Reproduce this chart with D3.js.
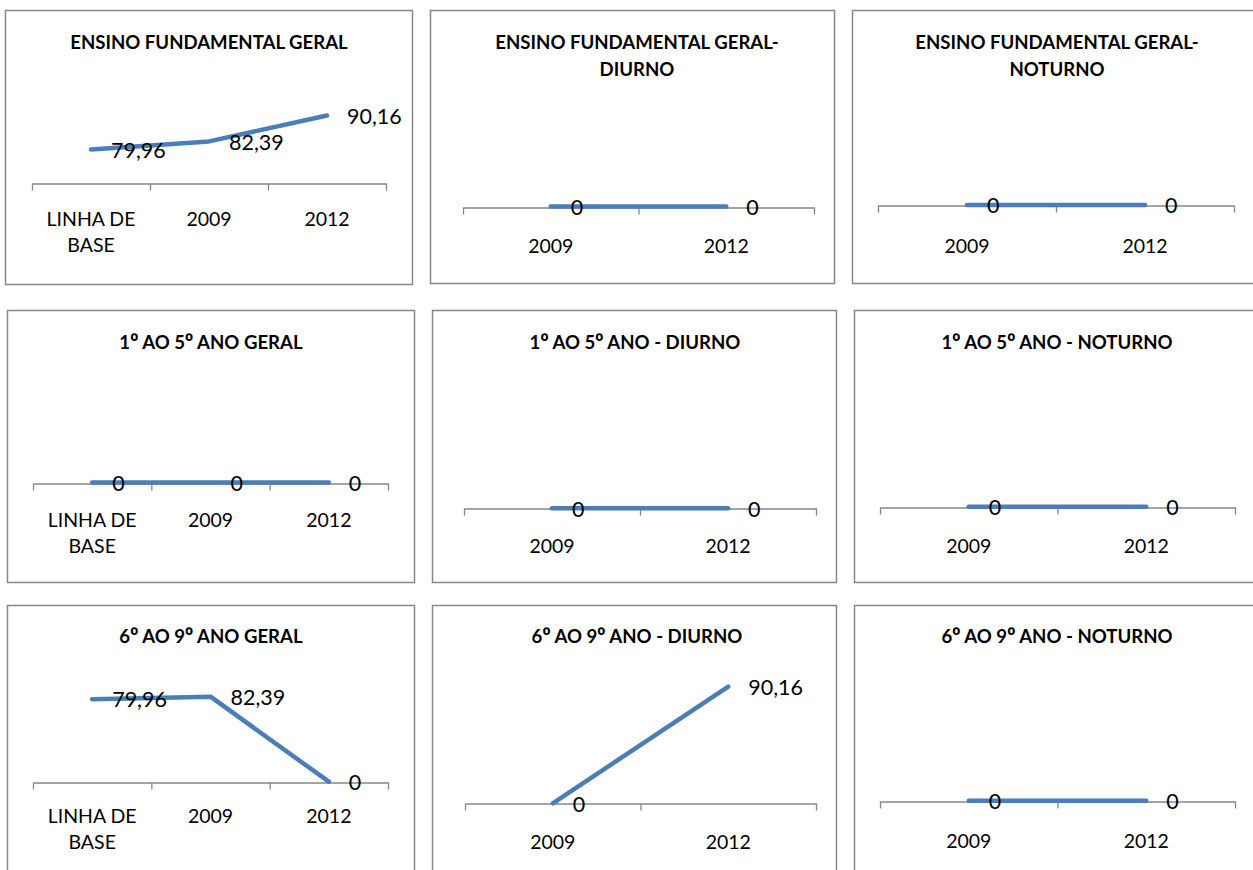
<!DOCTYPE html>
<html>
<head>
<meta charset="utf-8">
<script src="https://cdn.jsdelivr.net/npm/d3@7"></script>
<style>
  html, body { margin: 0; padding: 0; background: #fff; }
  svg { display: block; }
</style>
</head>
<body>
<svg id="chart" width="1253" height="870"></svg>
<script>
// ---------- DATA ----------
const categoriesBase = ["LINHA DE BASE", "2009", "2012"];
const categoriesYears = ["2009", "2012"];

const titles = [
  ["ENSINO FUNDAMENTAL GERAL"],
  ["ENSINO FUNDAMENTAL GERAL-", "DIURNO"],
  ["ENSINO FUNDAMENTAL GERAL-", "NOTURNO"],
  ["1º AO 5º ANO GERAL"],
  ["1º AO 5º ANO - DIURNO"],
  ["1º AO 5º ANO - NOTURNO"],
  ["6º AO 9º ANO GERAL"],
  ["6º AO 9º ANO - DIURNO"],
  ["6º AO 9º ANO - NOTURNO"]
];

const valuesFundGeral      = [79.96, 82.39, 90.16];
const valuesFundDiurno     = [0, 0];
const valuesFundNoturno    = [0, 0];
const values1a5Geral       = [0, 0, 0];
const values1a5Diurno      = [0, 0];
const values1a5Noturno     = [0, 0];
const values6a9Geral       = [79.96, 82.39, 0];
const values6a9Diurno      = [0, 90.16];
const values6a9Noturno     = [0, 0];

const yDomains = [[70, 95], [0, 1], [0, 1], [0, 1], [0, 1], [0, 1], [0, 100], [0, 100], [0, 1]];

const panelData = [
  { cats: categoriesBase,  vals: valuesFundGeral },
  { cats: categoriesYears, vals: valuesFundDiurno },
  { cats: categoriesYears, vals: valuesFundNoturno },
  { cats: categoriesBase,  vals: values1a5Geral },
  { cats: categoriesYears, vals: values1a5Diurno },
  { cats: categoriesYears, vals: values1a5Noturno },
  { cats: categoriesBase,  vals: values6a9Geral },
  { cats: categoriesYears, vals: values6a9Diurno },
  { cats: categoriesYears, vals: values6a9Noturno }
];

// ---------- LAYOUT ----------
const layout = [
  { bx: 5,   by: 10,  bw: 407, bh: 274, x0: 32,  x1: 386,  axisY: 182.7, top: 99.4,  tx: 209,  ty: 49.3, catY: 225.5 },
  { bx: 430, by: 10,  bw: 404, bh: 273, x0: 463, x1: 814,  axisY: 206.5, top: 106,   tx: 637,  ty: 49.3, catY: 253 },
  { bx: 852, by: 10,  bw: 406, bh: 273, x0: 878, x1: 1234, axisY: 205,   top: 105,   tx: 1057, ty: 49.3, catY: 252.5 },
  { bx: 7,   by: 310, bw: 407, bh: 272, x0: 33,  x1: 388,  axisY: 482.5, top: 382,   tx: 211,  ty: 349,  catY: 526.5 },
  { bx: 432, by: 310, bw: 404, bh: 272, x0: 464, x1: 816,  axisY: 508.3, top: 408,   tx: 635,  ty: 349,  catY: 553 },
  { bx: 854, by: 310, bw: 406, bh: 272, x0: 880, x1: 1235, axisY: 506.7, top: 406,   tx: 1057, ty: 349,  catY: 552.5 },
  { bx: 7,   by: 605, bw: 407, bh: 280, x0: 33,  x1: 388,  axisY: 781.7, top: 678.5, tx: 211,  ty: 643.3, catY: 822.5 },
  { bx: 432, by: 605, bw: 404, bh: 280, x0: 465, x1: 816,  axisY: 803.3, top: 674,   tx: 637,  ty: 643.3, catY: 849 },
  { bx: 854, by: 605, bw: 406, bh: 280, x0: 880, x1: 1235, axisY: 800.7, top: 700,   tx: 1057, ty: 643.3, catY: 847.5 }
];

const LINE_COLOR = "#4A7EBB";
const AXIS_COLOR = "#868686";
const BORDER_COLOR = "#878787";
const FONT = "Lato, 'Open Sans', sans-serif";
const ORD_FONT = "'Open Sans', 'Noto Sans', sans-serif";

const fmt = v => v === 0 ? "0" : d3.format(".2f")(v).replace(".", ",");

const svg = d3.select("#chart");

panelData.forEach((pd, i) => {
  const L = layout[i];
  const g = svg.append("g");

  // border
  g.append("rect")
    .attr("x", L.bx + 0.5).attr("y", L.by + 0.5)
    .attr("width", L.bw).attr("height", L.bh)
    .attr("fill", "#fff")
    .attr("stroke", BORDER_COLOR)
    .attr("stroke-width", 1.5);

  // title (ordinal indicator º drawn with a font that underlines it)
  const title = g.append("text")
    .attr("x", L.tx).attr("y", L.ty)
    .attr("text-anchor", "middle")
    .attr("font-family", FONT)
    .attr("font-weight", "bold")
    .attr("font-size", 18.6)
    .attr("fill", "#000");
  titles[i].forEach((t, k) => {
    const parts = t.split("º");
    parts.forEach((p, j) => {
      const ts = title.append("tspan").text(p);
      if (j === 0) ts.attr("x", L.tx).attr("dy", k === 0 ? 0 : 26.7);
      if (j < parts.length - 1) {
        title.append("tspan").attr("font-family", ORD_FONT).attr("font-size", 21).text("º");
      }
    });
  });

  const n = pd.cats.length;
  const x = d3.scaleBand().domain(pd.cats).range([L.x0, L.x1]).paddingInner(0).paddingOuter(0);
  const xEdges = d3.scaleLinear().domain([0, n]).range([L.x0, L.x1]);
  const y = d3.scaleLinear().domain(yDomains[i]).range([L.axisY, L.top]);

  // axis with ticks at category boundaries
  const axis = d3.axisBottom(xEdges)
    .tickValues(d3.range(n + 1))
    .tickFormat("")
    .tickSizeInner(7)
    .tickSizeOuter(0);
  const ag = g.append("g")
    .attr("transform", `translate(0,${Math.round(L.axisY) + 0.5})`)
    .call(axis);
  ag.select(".domain").attr("stroke", AXIS_COLOR).attr("stroke-width", 1.3);
  ag.selectAll(".tick line").attr("stroke", AXIS_COLOR).attr("stroke-width", 1.3);

  // category labels
  pd.cats.forEach(c => {
    const cx = x(c) + x.bandwidth() / 2;
    const words = c === "LINHA DE BASE" ? ["LINHA DE", "BASE"] : [c];
    const t = g.append("text")
      .attr("x", cx).attr("y", L.catY)
      .attr("text-anchor", "middle")
      .attr("font-family", FONT)
      .attr("font-size", 19.5)
      .attr("fill", "#000");
    words.forEach((w, k) => t.append("tspan").attr("x", cx).attr("dy", k === 0 ? 0 : 26.5).text(w));
  });

  // line
  const pts = pd.vals.map((v, k) => [x(pd.cats[k]) + x.bandwidth() / 2, y(v)]);
  g.append("path")
    .attr("d", d3.line()(pts))
    .attr("fill", "none")
    .attr("stroke", LINE_COLOR)
    .attr("stroke-width", 4.5)
    .attr("stroke-linecap", "round")
    .attr("stroke-linejoin", "round");

  // data labels (right of point)
  pts.forEach((p, k) => {
    g.append("text")
      .attr("x", p[0] + 20).attr("y", p[1] + 8.3)
      .attr("font-family", FONT)
      .attr("font-size", 21.5)
      .attr("fill", "#000")
      .text(fmt(pd.vals[k]));
  });
});
</script>
</body>
</html>
